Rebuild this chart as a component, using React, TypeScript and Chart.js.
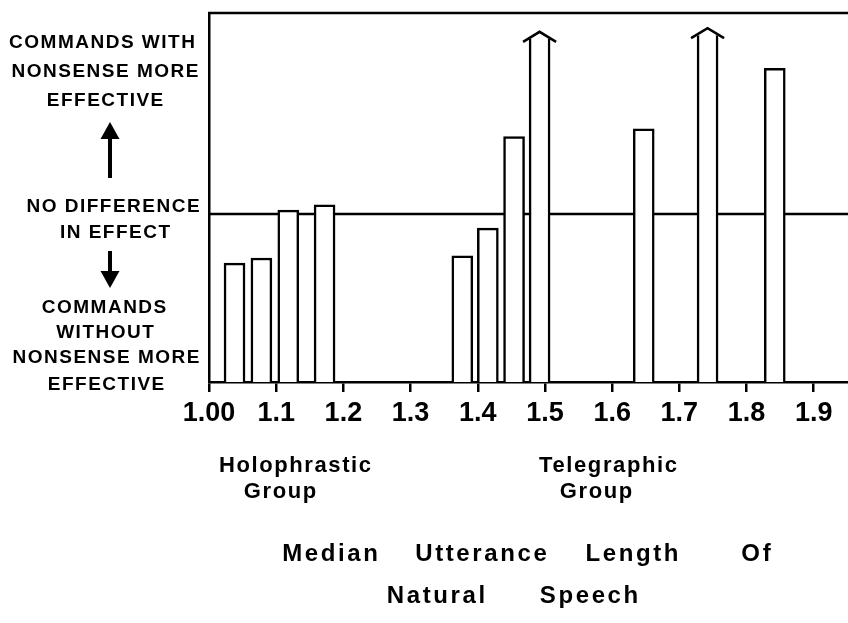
import React, { useEffect, useRef } from 'react';
import { Chart, registerables } from 'chart.js';

Chart.register(...registerables);

// ---- data ----
const utteranceLength = [1.038, 1.078, 1.118, 1.172, 1.377, 1.415, 1.454, 1.492, 1.647, 1.742, 1.842];
const effectScore = [32.2, 33.6, 46.6, 48.0, 34.2, 41.7, 66.5, 93.0, 68.6, 94.0, 85.0];
const exceedsScale = [false, false, false, false, false, false, false, true, false, true, false];
const noDifferenceLevel = 45.5;
const tickValues = [1.0, 1.1, 1.2, 1.3, 1.4, 1.5, 1.6, 1.7, 1.8, 1.9];
const tickLabels = ['1.00', '1.1', '1.2', '1.3', '1.4', '1.5', '1.6', '1.7', '1.8', '1.9'];
const upperNote = ['COMMANDS WITH', 'NONSENSE MORE', 'EFFECTIVE'];
const middleNote = ['NO DIFFERENCE', 'IN EFFECT'];
const lowerNote = ['COMMANDS', 'WITHOUT', 'NONSENSE MORE', 'EFFECTIVE'];
const holophrasticLabel = ['Holophrastic', 'Group'];
const telegraphicLabel = ['Telegraphic', 'Group'];
const titleLine1 = ['Median', 'Utterance', 'Length', 'Of'];
const titleLine2 = ['Natural', 'Speech'];

const FONT = "'Liberation Sans', Arial, sans-serif";

function drawText(ctx: CanvasRenderingContext2D, text: string, cx: number, baseline: number, font: string, spacing: number) {
  ctx.font = font;
  (ctx as any).letterSpacing = spacing + 'px';
  ctx.textAlign = 'center';
  ctx.textBaseline = 'alphabetic';
  ctx.fillStyle = '#000';
  ctx.fillText(text, cx + spacing / 2, baseline);
  (ctx as any).letterSpacing = '0px';
}

const annotatePlugin = {
  id: 'annotate',
  beforeDatasetsDraw(chart: any) {
    const { ctx, chartArea, scales } = chart;
    const y = scales.y.getPixelForValue(noDifferenceLevel);
    ctx.save();
    ctx.strokeStyle = '#000';
    ctx.lineWidth = 2.5;
    ctx.beginPath();
    ctx.moveTo(chartArea.left, y);
    ctx.lineTo(chartArea.right, y);
    ctx.stroke();
    ctx.beginPath();
    ctx.moveTo(chartArea.left - 1, chartArea.top);
    ctx.lineTo(chartArea.right, chartArea.top);
    ctx.stroke();
    ctx.restore();
  },
  afterDatasetsDraw(chart: any) {
    const { ctx } = chart;
    const meta = chart.getDatasetMeta(0);
    ctx.save();
    ctx.strokeStyle = '#000';
    ctx.lineWidth = 2.5;
    ctx.lineJoin = 'miter';
    meta.data.forEach((bar: any, i: number) => {
      if (!exceedsScale[i]) return;
      const { x, y, width } = bar.getProps(['x', 'y', 'width'], true);
      const half = width / 2;
      ctx.beginPath();
      ctx.moveTo(x - half - 6, y + 3);
      ctx.lineTo(x, y - 7);
      ctx.lineTo(x + half + 6, y + 3);
      ctx.stroke();
    });
    ctx.restore();
  },
  afterDraw(chart: any) {
    const { ctx } = chart;
    ctx.save();
    const noteFont = `bold 19px ${FONT}`;
    const upperBase = [48, 77, 106];
    const upperX = [102, 105, 105];
    upperNote.forEach((t, i) => drawText(ctx, t, upperX[i], upperBase[i], noteFont, 1.5));
    const midBase = [212, 238];
    const midX = [113, 115];
    middleNote.forEach((t, i) => drawText(ctx, t, midX[i], midBase[i], noteFont, 1.5));
    const lowBase = [313, 338, 363, 390];
    const lowX = [104, 105, 106, 106];
    lowerNote.forEach((t, i) => drawText(ctx, t, lowX[i], lowBase[i], noteFont, 1.5));

    // arrows
    ctx.fillStyle = '#000';
    ctx.strokeStyle = '#000';
    ctx.lineWidth = 4;
    ctx.beginPath();
    ctx.moveTo(110, 178);
    ctx.lineTo(110, 136);
    ctx.stroke();
    ctx.beginPath();
    ctx.moveTo(110, 122);
    ctx.lineTo(119.5, 139);
    ctx.lineTo(100.5, 139);
    ctx.closePath();
    ctx.fill();
    ctx.beginPath();
    ctx.moveTo(110, 251);
    ctx.lineTo(110, 273);
    ctx.stroke();
    ctx.beginPath();
    ctx.moveTo(110, 288);
    ctx.lineTo(119.5, 271);
    ctx.lineTo(100.5, 271);
    ctx.closePath();
    ctx.fill();

    // group labels
    const groupFont = `bold 22px ${FONT}`;
    drawText(ctx, holophrasticLabel[0], 295, 472, groupFont, 1.6);
    drawText(ctx, holophrasticLabel[1], 280, 498, groupFont, 1.6);
    drawText(ctx, telegraphicLabel[0], 608, 472, groupFont, 1.6);
    drawText(ctx, telegraphicLabel[1], 596, 498, groupFont, 1.6);

    // axis title
    const titleFont = `bold 24px ${FONT}`;
    const line1X = [330, 481, 632, 756];
    titleLine1.forEach((w, i) => drawText(ctx, w, line1X[i], 561, titleFont, 2.6));
    const line2X = [436, 589];
    titleLine2.forEach((w, i) => drawText(ctx, w, line2X[i], 603, titleFont, 2.6));
    ctx.restore();
  },
};

export default function App() {
  const canvasRef = useRef<HTMLCanvasElement | null>(null);

  useEffect(() => {
    const canvas = canvasRef.current;
    if (!canvas) return;
    const chart = new Chart(canvas, {
      type: 'bar',
      data: {
        datasets: [
          {
            data: utteranceLength.map((x, i) => ({ x, y: effectScore[i] })),
            backgroundColor: '#fff',
            borderColor: '#000',
            borderWidth: (c: any) =>
              exceedsScale[c.dataIndex] ? { top: 0, left: 2.5, right: 2.5, bottom: 0 } : 2.5,
            borderSkipped: 'start',
            barThickness: 21,
          } as any,
        ],
      },
      options: {
        animation: false,
        responsive: false,
        maintainAspectRatio: false,
        layout: { padding: { top: 13, right: 0, bottom: 0, left: 0 } },
        plugins: {
          legend: { display: false },
          tooltip: { enabled: false },
          title: { display: false },
        },
        scales: {
          x: {
            type: 'linear',
            offset: false,
            min: 1.0,
            max: 1.951,
            afterBuildTicks: (scale: any) => {
              scale.ticks = tickValues.map((v) => ({ value: v }));
            },
            afterFit: (scale: any) => {
              scale.height = 241;
            },
            ticks: {
              autoSkip: false,
              maxRotation: 0,
              padding: 5,
              color: '#000',
              font: { family: FONT, size: 27, weight: 'bold' },
              callback: (_v: any, idx: number) => tickLabels[idx],
            },
            grid: {
              display: true,
              offset: false,
              drawOnChartArea: false,
              drawTicks: true,
              tickLength: 10,
              color: '#000',
              lineWidth: 2.5,
            },
            border: { display: true, color: '#000', width: 2.5 },
          },
          y: {
            min: 0,
            max: 100,
            afterFit: (scale: any) => {
              scale.width = 209;
            },
            ticks: { display: false },
            grid: { display: false },
            border: { display: true, color: '#000', width: 2.5 },
          },
        },
      } as any,
      plugins: [annotatePlugin],
    });
    return () => chart.destroy();
  }, []);

  return (
    <div style={{ position: 'absolute', left: 0, top: 0, width: 848, height: 623, background: '#fff' }}>
      <canvas ref={canvasRef} width={848} height={623} style={{ display: 'block' }} />
    </div>
  );
}
